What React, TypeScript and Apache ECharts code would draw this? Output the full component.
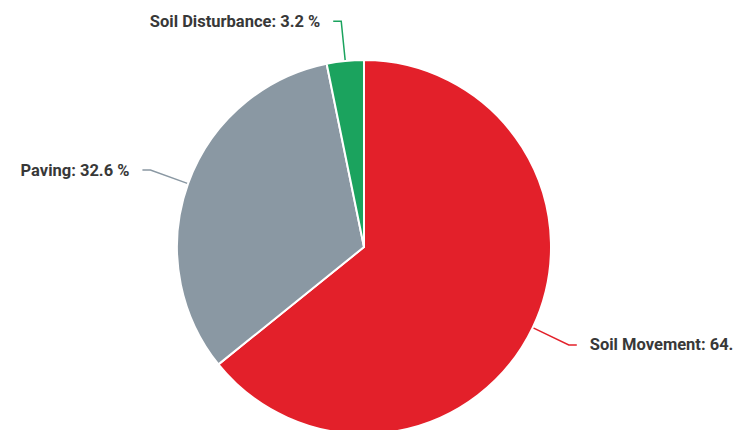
import React, { useEffect, useRef } from "react";
import * as echarts from "echarts";

const categories = ["Soil Movement", "Paving", "Soil Disturbance"];
const values = [64.2, 32.6, 3.2];
const colors = ["#E3202A", "#8A98A3", "#1BA35E"];

export default function App() {
  const ref = useRef<HTMLDivElement>(null);
  useEffect(() => {
    if (!ref.current) return;
    const chart = echarts.init(ref.current, undefined, { renderer: "svg" });
    chart.setOption({
      animation: false,
      backgroundColor: "#ffffff",
      series: [
        {
          type: "pie",
          center: [364, 247],
          radius: 187,
          startAngle: 90,
          clockwise: true,
          avoidLabelOverlap: false,
          itemStyle: { borderColor: "#ffffff", borderWidth: 2 },
          label: {
            show: true,
            formatter: "{b}: {c} %",
            fontFamily: "Roboto",
            fontSize: 16.5,
            fontWeight: "bold",
            color: "#383838",
            distanceToLabelLine: 13,
          },
          labelLine: {
            show: true,
            length: 40,
            length2: 8,
            lineStyle: { width: 1.5 },
          },
          data: categories.map((name, i) => ({
            name,
            value: values[i],
            itemStyle: { color: colors[i] },
          })),
        },
      ],
    });
    return () => chart.dispose();
  }, []);
  return (
    <div
      ref={ref}
      style={{ position: "absolute", left: 0, top: 0, width: 733, height: 430 }}
    />
  );
}
